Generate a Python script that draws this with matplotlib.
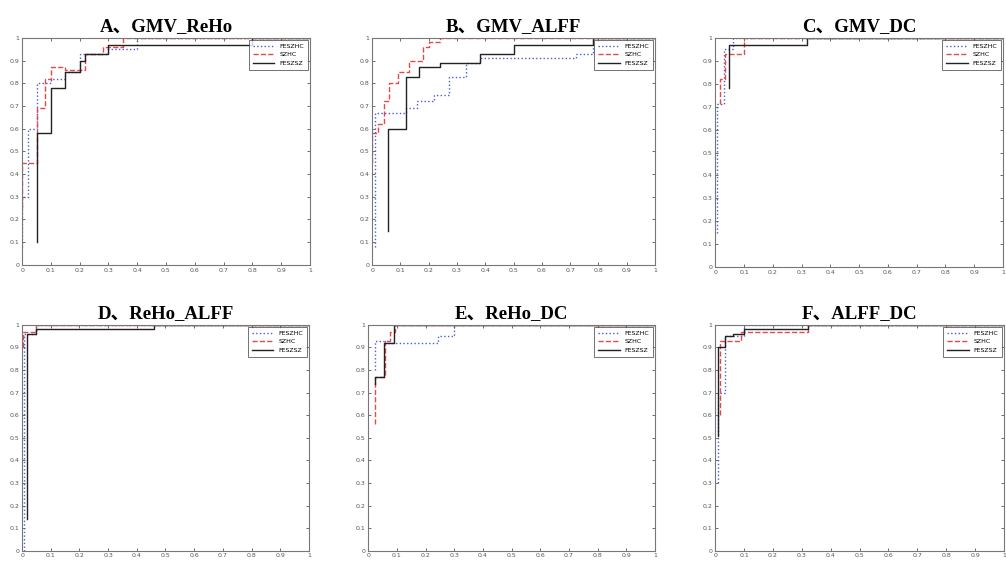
import matplotlib.pyplot as plt

# legend names
labels = ['FESZHC', 'SZHC', 'FESZSZ']
titles = ['A\u3001GMV_ReHo', 'B\u3001GMV_ALFF', 'C\u3001GMV_DC',
          'D\u3001ReHo_ALFF', 'E\u3001ReHo_DC', 'F\u3001ALFF_DC']

# ROC curves (fpr, tpr), one list per class pair
# A
a_blue_x = [0, 0, 0.02, 0.02, 0.05, 0.05, 0.1, 0.1, 0.15, 0.15, 0.2, 0.2, 0.3, 0.3, 0.4, 0.4, 1]
a_blue_y = [0.08, 0.3, 0.3, 0.6, 0.6, 0.8, 0.8, 0.82, 0.82, 0.85, 0.85, 0.93, 0.93, 0.95, 0.95, 1, 1]
a_red_x = [0, 0, 0.05, 0.05, 0.08, 0.08, 0.1, 0.1, 0.15, 0.15, 0.22, 0.22, 0.28, 0.28, 0.35, 0.35, 1]
a_red_y = [0.25, 0.45, 0.45, 0.69, 0.69, 0.82, 0.82, 0.87, 0.87, 0.86, 0.86, 0.93, 0.93, 0.96, 0.96, 1, 1]
a_blk_x = [0.05, 0.05, 0.1, 0.1, 0.15, 0.15, 0.2, 0.2, 0.22, 0.22, 0.3, 0.3, 0.8, 0.8, 1]
a_blk_y = [0.1, 0.58, 0.58, 0.78, 0.78, 0.85, 0.85, 0.9, 0.9, 0.93, 0.93, 0.97, 0.97, 1, 1]
# B
b_blue_x = [0.01, 0.01, 0.12, 0.12, 0.16, 0.16, 0.22, 0.22, 0.27, 0.27, 0.33, 0.33, 0.38, 0.38, 0.72, 0.72, 0.78, 0.78, 1]
b_blue_y = [0.08, 0.67, 0.67, 0.69, 0.69, 0.72, 0.72, 0.75, 0.75, 0.83, 0.83, 0.89, 0.89, 0.91, 0.91, 0.93, 0.93, 1, 1]
b_red_x = [0, 0, 0.02, 0.02, 0.04, 0.04, 0.06, 0.06, 0.09, 0.09, 0.13, 0.13, 0.18, 0.18, 0.2, 0.2, 0.24, 0.24, 1]
b_red_y = [0.45, 0.58, 0.58, 0.62, 0.62, 0.72, 0.72, 0.8, 0.8, 0.85, 0.85, 0.9, 0.9, 0.96, 0.96, 0.98, 0.98, 1, 1]
b_blk_x = [0.056, 0.056, 0.12, 0.12, 0.165, 0.165, 0.24, 0.24, 0.38, 0.38, 0.5, 0.5, 0.78, 0.78, 1]
b_blk_y = [0.15, 0.6, 0.6, 0.83, 0.83, 0.87, 0.87, 0.89, 0.89, 0.93, 0.93, 0.97, 0.97, 1, 1]
# C
c_blue_x = [0.006, 0.006, 0.03, 0.03, 0.06, 0.06, 1]
c_blue_y = [0.15, 0.71, 0.71, 0.95, 0.95, 1, 1]
c_red_x = [0.017, 0.017, 0.035, 0.035, 0.1, 0.1, 1]
c_red_y = [0.71, 0.82, 0.82, 0.93, 0.93, 1, 1]
c_blk_x = [0.046, 0.046, 0.32, 0.32, 1]
c_blk_y = [0.78, 0.97, 0.97, 1, 1]
# D
d_blue_x = [0.008, 0.008, 0.05, 0.05, 1]
d_blue_y = [0.0, 0.96, 0.96, 1, 1]
d_red_x = [0.004, 0.004, 0.05, 0.05, 1]
d_red_y = [0.9, 0.97, 0.97, 1, 1]
d_blk_x = [0.017, 0.017, 0.05, 0.05, 0.46, 0.46, 1]
d_blk_y = [0.14, 0.96, 0.96, 0.98, 0.98, 1, 1]
# E
e_blue_x = [0.023, 0.023, 0.07, 0.07, 0.244, 0.244, 0.3, 0.3, 1]
e_blue_y = [0.8, 0.93, 0.93, 0.92, 0.92, 0.95, 0.95, 1, 1]
e_red_x = [0.023, 0.023, 0.058, 0.058, 0.076, 0.076, 0.093, 0.093, 1]
e_red_y = [0.56, 0.77, 0.77, 0.93, 0.93, 0.97, 0.97, 1, 1]
e_blk_x = [0.023, 0.023, 0.056, 0.056, 0.09, 0.09, 1]
e_blk_y = [0.74, 0.77, 0.77, 0.92, 0.92, 1, 1]
# F
f_blue_x = [0.008, 0.008, 0.035, 0.035, 0.1, 0.1, 1]
f_blue_y = [0.3, 0.7, 0.7, 0.95, 0.95, 1, 1]
f_red_x = [0.017, 0.017, 0.035, 0.035, 0.09, 0.09, 0.32, 0.32, 1]
f_red_y = [0.6, 0.93, 0.93, 0.93, 0.93, 0.97, 0.97, 1, 1]
f_blk_x = [0.008, 0.008, 0.035, 0.035, 0.06, 0.06, 0.1, 0.1, 0.32, 0.32, 1]
f_blk_y = [0.51, 0.9, 0.9, 0.95, 0.95, 0.96, 0.96, 0.98, 0.98, 1, 1]

curves = [
    [(a_blue_x, a_blue_y), (a_red_x, a_red_y), (a_blk_x, a_blk_y)],
    [(b_blue_x, b_blue_y), (b_red_x, b_red_y), (b_blk_x, b_blk_y)],
    [(c_blue_x, c_blue_y), (c_red_x, c_red_y), (c_blk_x, c_blk_y)],
    [(d_blue_x, d_blue_y), (d_red_x, d_red_y), (d_blk_x, d_blk_y)],
    [(e_blue_x, e_blue_y), (e_red_x, e_red_y), (e_blk_x, e_blk_y)],
    [(f_blue_x, f_blue_y), (f_red_x, f_red_y), (f_blk_x, f_blk_y)],
]

ticks = [0, 0.1, 0.2, 0.3, 0.4, 0.5, 0.6, 0.7, 0.8, 0.9, 1]
tick_labels = ['0', '0.1', '0.2', '0.3', '0.4', '0.5', '0.6', '0.7', '0.8', '0.9', '1']

colors = ['#4a5cc8', '#e04a4a', '#222222']
styles = [':', '--', '-']

# axes boxes [left, bottom, width, height]
boxes = [
    [0.022, 0.532, 0.286, 0.401],
    [0.370, 0.532, 0.281, 0.401],
    [0.711, 0.528, 0.286, 0.405],
    [0.022, 0.027, 0.285, 0.399],
    [0.366, 0.027, 0.285, 0.399],
    [0.711, 0.027, 0.287, 0.399],
]

fig = plt.figure(figsize=(10.06, 5.66), dpi=100)

for i in range(6):
    ax = fig.add_axes(boxes[i])
    for j in range(3):
        x, y = curves[i][j]
        ax.plot(x, y, color=colors[j], linestyle=styles[j], linewidth=1.0, label=labels[j])
    ax.set_xlim(0, 1)
    ax.set_ylim(0, 1)
    ax.set_xticks(ticks)
    ax.set_xticklabels(tick_labels)
    ax.set_yticks(ticks)
    ax.set_yticklabels(tick_labels)
    ax.tick_params(direction='in', length=2, width=0.6, labelsize=4.5,
                   colors='#555555', top=True, right=True, pad=2)
    for s in ax.spines.values():
        s.set_color('#777777')
        s.set_linewidth(0.8)
    ax.set_title(titles[i], family=['Liberation Serif', 'Noto Sans CJK SC'],
                 fontweight='bold', fontsize=13.5, pad=5)
    leg = ax.legend(loc='upper right', fontsize=4.5, handlelength=3.5,
                    frameon=True, fancybox=False, borderpad=0.6,
                    borderaxespad=0.3)
    leg.get_frame().set_edgecolor('#333333')
    leg.get_frame().set_linewidth(0.6)

plt.savefig('out.png', dpi=100)
